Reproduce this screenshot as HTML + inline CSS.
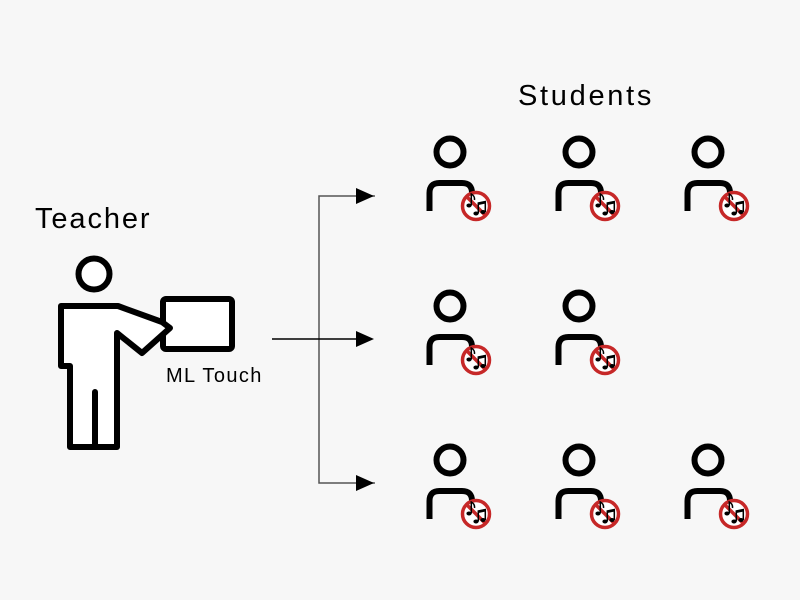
<!DOCTYPE html>
<html><head><style>
html,body{margin:0;padding:0;background:#f7f7f7;}
svg{display:block;}
text{font-family:"Liberation Sans",sans-serif;fill:#000;}
</style></head><body>
<svg width="800" height="600" viewBox="0 0 800 600">
<defs>
<g id="st">
  <circle cx="0" cy="0" r="13.5" fill="none" stroke="#000" stroke-width="6"/>
  <path d="M-20.5 59 V41 Q-20.5 31 -10.5 31 H12 Q22 31 22 41 V48" fill="none" stroke="#000" stroke-width="6"/>
  <circle cx="26" cy="54" r="13.5" fill="#fff" stroke="#c62828" stroke-width="3.5"/>
  <line x1="16.5" y1="44.5" x2="35.5" y2="63.5" stroke="#c62828" stroke-width="3.5"/>
  <ellipse cx="19" cy="53.5" rx="2.6" ry="2" fill="#000"/>
  <path d="M21.3 53.5 V42 Q25 44 24.5 48" fill="none" stroke="#000" stroke-width="1.5"/>
  <ellipse cx="26" cy="61.5" rx="2.6" ry="2" fill="#000"/>
  <ellipse cx="33" cy="60" rx="2.6" ry="2" fill="#000"/>
  <path d="M28.3 61.5 V51 L35.3 49.5 V60" fill="none" stroke="#000" stroke-width="1.5"/>
  <line x1="28.3" y1="51.8" x2="35.3" y2="50.3" stroke="#000" stroke-width="2.4"/>
</g>
</defs>
<text x="518" y="105" font-size="29" letter-spacing="2.7">Students</text>
<text x="35" y="228" font-size="29" letter-spacing="1.9">Teacher</text>
<text x="166" y="382" font-size="20" letter-spacing="1.4">ML Touch</text>

<use href="#st" x="450" y="152"/><use href="#st" x="579" y="152"/><use href="#st" x="708" y="152"/>
<use href="#st" x="450" y="306"/><use href="#st" x="579" y="306"/>
<use href="#st" x="450" y="460"/><use href="#st" x="579" y="460"/><use href="#st" x="708" y="460"/>

<!-- teacher -->
<circle cx="94" cy="274" r="15.5" fill="#fff" stroke="#000" stroke-width="6"/>
<rect x="163" y="299" width="69" height="50" rx="3" fill="#fff" stroke="#000" stroke-width="6"/>
<path d="M61 306 H118 L162 322 L170 328 L142 353 L117 333 V447 H95 V392 V447 H70 V366 H61 Z" fill="#fff" stroke="#000" stroke-width="6" stroke-linejoin="round"/>

<!-- connectors -->
<path d="M375 196 H319 V483 H375" fill="none" stroke="#555" stroke-width="1.5"/>
<line x1="272" y1="339" x2="360" y2="339" stroke="#000" stroke-width="1.5"/>
<polygon points="356,188 374,196 356,204"/>
<polygon points="356,331 374,339 356,347"/>
<polygon points="356,475 374,483 356,491"/>
</svg>
</body></html>
